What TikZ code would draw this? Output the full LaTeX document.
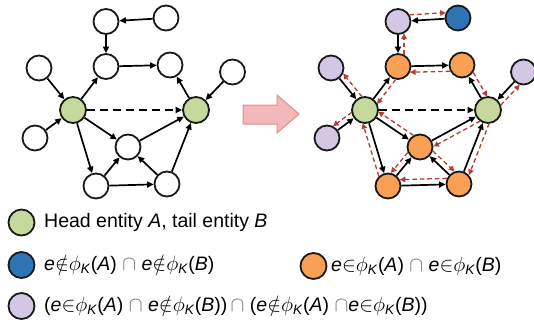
\documentclass[tikz,border=0pt]{standalone}
\usepackage{fontspec}
\setmainfont{Liberation Sans}
\usetikzlibrary{calc,arrows.meta}
\definecolor{ngreen}{RGB}{198,217,157}
\definecolor{norange}{RGB}{249,160,85}
\definecolor{nblue}{RGB}{46,117,182}
\definecolor{npurple}{RGB}{211,199,229}
\definecolor{nred}{RGB}{178,62,52}
\definecolor{pinkf}{RGB}{244,184,184}
\definecolor{pinkd}{RGB}{230,140,140}
\definecolor{capgray}{RGB}{110,110,110}
\newcommand{\ee}{\textit{e}}
\newcommand{\phiK}[1]{$\phi$\textsubscript{\textit{K}}(\textit{#1})}
\newcommand{\capg}{{\color{capgray}$\cap$}}
\newcommand{\redge}[3]{\draw[redd] ($(#1)!#3!90:(#2)$) -- ($(#2)!#3!-90:(#1)$);}
\tikzset{
  nd/.style={circle,draw=black!90,line width=1.8pt,minimum size=25pt,inner sep=0pt,fill=white},
  hd/.style={nd,minimum size=26pt,fill=ngreen},
  edg/.style={line width=1.7pt,-{Triangle[length=6.5pt,width=6pt]}},
  dedg/.style={line width=1.8pt,dash pattern=on 8pt off 5pt,-{Triangle[length=6.5pt,width=6pt]}},
  redd/.style={nred,line width=1.3pt,dash pattern=on 4.5pt off 3pt,shorten <=12pt,shorten >=12pt,-{Triangle[length=5.5pt,width=5.5pt]}},
  lg/.style={circle,draw=black!90,line width=1.8pt,minimum size=26pt,inner sep=0pt},
  lt/.style={anchor=west,inner sep=0pt,font=\fontsize{19.5}{21}\selectfont}
}
\begin{document}
\begin{tikzpicture}[x=1pt,y=-1pt]
\useasboundingbox (0,0) rectangle (534,327);
% ---------- left graph ----------
\node[nd] (tr) at (166,18) {};
\node[nd] (t) at (106,21.5) {};
\node[nd] (mt) at (106,66.5) {};
\node[nd] (rt) at (170,65) {};
\node[nd] (lu) at (39,68) {};
\node[nd] (ru) at (232.5,72) {};
\node[hd] (A) at (73,110) {};
\node[hd] (B) at (196,110) {};
\node[nd] (ll) at (35,138) {};
\node[nd] (c) at (128,147) {};
\node[nd] (bl) at (96,186) {};
\node[nd] (br) at (167,184) {};
\draw[edg] (tr) -- (t);
\draw[edg] (t) -- (mt);
\draw[edg] (mt) -- (rt);
\draw[edg] (A) -- (mt);
\draw[edg] (lu) -- (A);
\draw[edg] (ll) -- (A);
\draw[dedg] (A) -- (B);
\draw[edg] (A) -- (c);
\draw[edg] (A) -- (bl);
\draw[edg] (B) -- (rt);
\draw[edg] (ru) -- (B);
\draw[edg] (c) -- (B);
\draw[edg] (bl) -- (c);
\draw[edg] (bl) -- (br);
\draw[edg] (br) -- (c);
\draw[edg] (br) -- (B);
% ---------- big arrow ----------
\draw[pinkd,fill=pinkf,line width=1pt] (243,105) -- (277,105) -- (277,95) -- (299,114) -- (277,133) -- (277,124) -- (243,124) -- cycle;
% ---------- right graph ----------
\node[nd,fill=nblue] (tr2) at (458,18) {};
\node[nd,fill=npurple] (t2) at (398,21.5) {};
\node[nd,fill=norange] (mt2) at (398,66.5) {};
\node[nd,fill=norange] (rt2) at (462,65) {};
\node[nd,fill=npurple] (lu2) at (331,68) {};
\node[nd,fill=npurple] (ru2) at (523.5,72) {};
\node[hd] (A2) at (365,110) {};
\node[hd] (B2) at (488,110) {};
\node[nd,fill=npurple] (ll2) at (327,138) {};
\node[nd,fill=norange] (c2) at (420,147) {};
\node[nd,fill=norange] (bl2) at (388,186) {};
\node[nd,fill=norange] (br2) at (459,184) {};
\draw[edg] (tr2) -- (t2);
\draw[edg] (t2) -- (mt2);
\draw[edg] (mt2) -- (rt2);
\draw[edg] (A2) -- (mt2);
\draw[edg] (lu2) -- (A2);
\draw[edg] (ll2) -- (A2);
\draw[dedg] (A2) -- (B2);
\draw[edg] (A2) -- (c2);
\draw[edg] (A2) -- (bl2);
\draw[edg] (B2) -- (rt2);
\draw[edg] (ru2) -- (B2);
\draw[edg] (c2) -- (B2);
\draw[edg] (bl2) -- (c2);
\draw[edg] (bl2) -- (br2);
\draw[edg] (br2) -- (c2);
\draw[edg] (br2) -- (B2);
\redge{t2}{tr2}{6pt}
\redge{mt2}{t2}{-6pt}
\redge{rt2}{mt2}{6pt}
\redge{A2}{lu2}{-6pt}
\redge{mt2}{A2}{6pt}
\redge{rt2}{B2}{6pt}
\redge{B2}{ru2}{-6pt}
\redge{A2}{ll2}{-6pt}
\redge{c2}{A2}{-6pt}
\redge{B2}{c2}{6pt}
\redge{bl2}{A2}{6pt}
\redge{c2}{bl2}{-6pt}
\redge{c2}{br2}{6pt}
\redge{br2}{bl2}{-6pt}
\redge{B2}{br2}{6pt}
% ---------- legend ----------
\node[lg,fill=ngreen] (lg1) at (21.5,222.5) {};
\node[lt] (lt1) at (44,222.5) {Head entity \textit{A}, tail entity \textit{B}};
\node[lg,fill=nblue] (lg2) at (21.5,265) {};
\node[lt] (lt2) at (44,265) {\ee$\notin$\phiK{A} \capg{} \ee$\notin$\phiK{B}};
\node[lg,fill=norange] (lg3) at (313.5,266) {};
\node[lt] (lt3) at (331,266) {\ee$\in$\phiK{A} \capg{} \ee$\in$\phiK{B}};
\node[lg,fill=npurple] (lg4) at (21.5,306) {};
\node[lt] (lt4) at (44,306) {(\ee$\in$\phiK{A} \capg{} \ee$\notin$\phiK{B})\,\capg{} (\ee$\notin$\phiK{A} \capg{}\ee$\in$\phiK{B})};
\end{tikzpicture}
\end{document}
